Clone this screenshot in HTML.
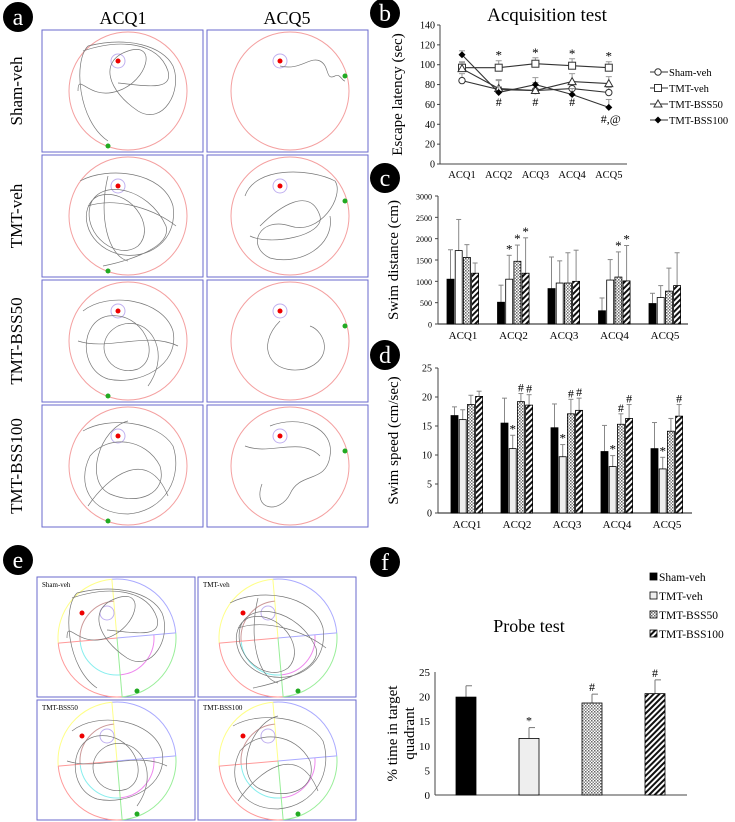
<!DOCTYPE html>
<html><head><meta charset="utf-8">
<style>
html,body{margin:0;padding:0;background:#fff;}
svg{display:block;font-family:"Liberation Serif",serif;}
</style></head>
<body>
<svg id="fig" width="735" height="822" viewBox="0 0 735 822">
<defs>
<pattern id="dots" width="3" height="3" patternUnits="userSpaceOnUse"><rect width="3" height="3" fill="#fff"/><rect width="1.5" height="1.5" fill="#666"/><rect x="1.5" y="1.5" width="1.5" height="1.5" fill="#888"/></pattern>
<pattern id="hatch" width="4" height="4" patternUnits="userSpaceOnUse" patternTransform="rotate(45)"><rect width="4" height="4" fill="#fff"/><rect width="2" height="4" fill="#111"/></pattern>
</defs>
<g id="left"></g>
<g id="charts"></g>
</svg>
<script>
// ---------- chart data ----------
const cats = ["ACQ1","ACQ2","ACQ3","ACQ4","ACQ5"];
const groups = ["Sham-veh","TMT-veh","TMT-BSS50","TMT-BSS100"];
const latSham = [84,75,74,76,72];
const latTmt = [97,97,101,99,97];
const latB50 = [96,76,74,83,81];
const latB100 = [110,72,80,70,57];
const latErrSham = [7,9,6,6,5];
const latErrTmt = [6,7,6,7,6];
const latErrB50 = [6,9,8,8,7];
const latErrB100 = [4,6,7,6,8];
const latTicks = [0,20,40,60,80,100,120,140];
const distSham = [1050,510,830,310,480];
const distTmt = [1720,1050,960,1030,620];
const distB50 = [1560,1470,960,1100,770];
const distB100 = [1190,1190,1000,1010,900];
const distTopSham = [1740,910,1570,610,720];
const distTopTmt = [2450,1610,1480,1510,900];
const distTopB50 = [1860,1850,1670,1690,1310];
const distTopB100 = [1430,2020,1730,1840,1670];
const distTicks = [0,500,1000,1500,2000,2500,3000];
const spdSham = [16.8,15.5,14.7,10.6,11.1];
const spdTmt = [16.1,11.1,9.7,8.0,7.6];
const spdB50 = [18.7,19.2,17.1,15.3,14.1];
const spdB100 = [20.1,18.6,17.7,16.3,16.7];
const spdTopSham = [18.3,19.8,18.8,15.1,15.6];
const spdTopTmt = [17.8,13.4,11.8,9.9,9.6];
const spdTopB50 = [20.3,20.6,19.6,17.1,16.3];
const spdTopB100 = [21.0,20.4,19.8,18.7,18.7];
const spdTicks = [0,5,10,15,20,25];
const probe = [19.9,11.5,18.7,20.6];
const probeTop = [22.2,13.7,20.5,23.4];
const probeMarks = ["","*","#","#"];
const probeTicks = [0,5,10,15,20,25];

const NS="http://www.w3.org/2000/svg";
const svg=document.getElementById('fig');
const charts=document.getElementById('charts');
function el(tag,attrs,parent,text){const e=document.createElementNS(NS,tag);for(const k in attrs)e.setAttribute(k,attrs[k]);if(text!==undefined)e.textContent=text;(parent||svg).appendChild(e);return e;}

function badge(cx,cy,letter){
  const g=el('g',{},svg);
  
  
  el('circle',{cx:cx,cy:cy,r:15,fill:'#000'},g);
  el('text',{x:cx,y:cy+8,'text-anchor':'middle','font-size':24,fill:'#fff'},g,letter);
}
badge(18,17,'a');badge(385,13,'b');badge(385,178,'c');badge(385,355,'d');badge(18,560,'e');badge(385,562,'f');

// ---------- panel b ----------
(function(){
  const g=el('g',{},charts);
  
  
  const x0=440,x1=627,yb=164,yt=25;
  const y=v=>yb-(v-0)/140*(yb-yt);
  const x=i=>462+i*36.7;
  el('text',{x:547,y:21,'text-anchor':'middle','font-size':19},g,'Acquisition test');
  el('line',{x1:x0,y1:yt,x2:x0,y2:yb,stroke:'#444'},g);
  el('line',{x1:x0,y1:yb,x2:x1,y2:yb,stroke:'#444'},g);
  latTicks.forEach(t=>{el('line',{x1:x0-3,x2:x0,y1:y(t),y2:y(t),stroke:'#444'},g);
    const tx=el('text',{x:x0-5,y:y(t)+3.5,'text-anchor':'end','font-size':10},g,t);
    });
  cats.forEach((c,i)=>{el('text',{x:x(i),y:178,'text-anchor':'middle','font-size':10.5},g,c);});
  const yl=el('text',{x:0,y:0,'text-anchor':'middle','font-size':15,transform:`translate(${x0-38},${(yt+yb)/2}) rotate(-90)`},g,'Escape latency (sec)');
  
  const series=[[latSham,latErrSham,'circle'],[latTmt,latErrTmt,'square'],[latB50,latErrB50,'tri'],[latB100,latErrB100,'diamond']];
  series.forEach(([vals,errs,m],si)=>{
    errs.forEach((e,i)=>{el('line',{x1:x(i),x2:x(i),y1:y(vals[i]),y2:y(vals[i]+e),stroke:'#999'},g);
      el('line',{x1:x(i)-3,x2:x(i)+3,y1:y(vals[i]+e),y2:y(vals[i]+e),stroke:'#999'},g);});
    const p=el('polyline',{points:vals.map((v,i)=>x(i)+','+y(v)).join(' '),fill:'none',stroke:'#333','stroke-width':1.1},g);
    
    vals.forEach((v,i)=>marker(g,m,x(i),y(v)));
  });
  [1,2,3,4].forEach(i=>el('text',{x:x(i),y:y(latTmt[i]+latErrTmt[i])-1,'text-anchor':'middle','font-size':13},g,'*'));
  [1,2,3].forEach(i=>el('text',{x:x(i),y:106,'text-anchor':'middle','font-size':12},g,'#'));
  el('text',{x:x(4)+2,y:123,'text-anchor':'middle','font-size':12},g,'#,@');
  const lg=[['circle','Sham-veh'],['square','TMT-veh'],['tri','TMT-BSS50'],['diamond','TMT-BSS100']];
  lg.forEach(([m,n],k)=>{const yy=72+k*16;
    const le=el('g',{},g);
    el('line',{x1:650,x2:668,y1:yy,y2:yy,stroke:'#333'},le);marker(le,m,658,yy);
    el('text',{x:669,y:yy+4,'font-size':10.5},le,n);});
})();
function marker(g,m,cx,cy){
  if(m==='circle')el('circle',{cx:cx,cy:cy,r:3.2,fill:'#fff',stroke:'#333'},g);
  else if(m==='square')el('rect',{x:cx-3.5,y:cy-3.5,width:7,height:7,fill:'#fff',stroke:'#333'},g);
  else if(m==='tri')el('polygon',{points:`${cx},${cy-4} ${cx-4},${cy+3} ${cx+4},${cy+3}`,fill:'#fff',stroke:'#333'},g);
  else el('polygon',{points:`${cx},${cy-3.5} ${cx+3.5},${cy} ${cx},${cy+3.5} ${cx-3.5},${cy}`,fill:'#000'},g);
}

// ---------- bar charts c,d ----------
const fills=['#000','#fff','url(#dots)','url(#hatch)'];
function barChart(name,vals,tops,ticks,max,x0,x1,yt,yb,gx0,gstep,ytitle,tfs,lightTmt,marks){
  const g=el('g',{},charts);
  
  
  const y=v=>yb-v/max*(yb-yt);
  el('line',{x1:x0,y1:yt,x2:x0,y2:yb,stroke:'#444'},g);
  el('line',{x1:x0,y1:yb,x2:x1,y2:yb,stroke:'#444','stroke-width':1.3},g);
  ticks.forEach(t=>{el('line',{x1:x0-3,x2:x0,y1:y(t),y2:y(t),stroke:'#444'},g);
    el('text',{x:x0-6,y:y(t)+3.5,'text-anchor':'end','font-size':max>100?8:10},g,t);});
  const yl=el('text',{x:0,y:0,'text-anchor':'middle','font-size':tfs,transform:`translate(${x0-40},${(yt+yb)/2}) rotate(-90)`},g,ytitle);
  
  cats.forEach((c,i)=>{const cx=gx0+i*gstep;
    el('text',{x:cx,y:yb+15,'text-anchor':'middle','font-size':11},g,c);
    vals.forEach((s,si)=>{const bx=cx-16+si*8.2;
      el('line',{x1:bx+3.5,x2:bx+3.5,y1:y(tops[si][i]),y2:y(s[i]),stroke:'#888'},g);
      el('line',{x1:bx+1,x2:bx+6,y1:y(tops[si][i]),y2:y(tops[si][i]),stroke:'#888'},g);
      const r=el('rect',{x:bx,y:y(s[i]),width:7,height:yb-y(s[i]),fill:(si===1&&lightTmt)?'#eee':fills[si],stroke:'#000','stroke-width':0.8},g);
      
      const mk=marks[si][i];
      if(mk)el('text',{x:bx+3.5,y:y(tops[si][i])-2,'text-anchor':'middle','font-size':mk==='*'?13:12},g,mk);
    });
  });
}
barChart('swim-distance-chart',[distSham,distTmt,distB50,distB100],[distTopSham,distTopTmt,distTopB50,distTopB100],distTicks,3000,438,688,196,324,463,50.5,'Swim distance (cm)',15,false,
  [["","","","",""],["","*","","",""],["","*","","*",""],["","*","","*",""]]);
barChart('swim-speed-chart',[spdSham,spdTmt,spdB50,spdB100],[spdTopSham,spdTopTmt,spdTopB50,spdTopB100],spdTicks,25,438,692,368,513,467,50,'Swim speed (cm/sec)',15,true,
  [["","","","",""],["","*","*","*","*"],["","#","#","#",""],["","#","#","#","#"]]);

// ---------- panel f ----------
(function(){
  const g=el('g',{},charts);
  
  
  const x0=435,x1=687,yt=672,yb=795,y=v=>yb-v/25*(yb-yt);
  el('text',{x:529,y:632,'text-anchor':'middle','font-size':18},g,'Probe test');
  el('line',{x1:x0,y1:yt,x2:x0,y2:yb,stroke:'#444'},g);
  el('line',{x1:x0,y1:yb,x2:x1,y2:yb,stroke:'#444'},g);
  probeTicks.forEach(t=>{el('text',{x:x0-5,y:y(t)+4,'text-anchor':'end','font-size':11},g,t);});
  el('text',{x:0,y:0,'text-anchor':'middle','font-size':15,transform:`translate(${x0-38},${(yt+yb)/2}) rotate(-90)`},g,'% time in target');
  el('text',{x:0,y:0,'text-anchor':'middle','font-size':15,transform:`translate(${x0-21},${(yt+yb)/2}) rotate(-90)`},g,'quadrant');
  probe.forEach((v,i)=>{const cx=466+i*63;
    el('line',{x1:cx,x2:cx,y1:y(probeTop[i]),y2:y(v),stroke:'#777'},g);
    el('line',{x1:cx,x2:cx+6,y1:y(probeTop[i]),y2:y(probeTop[i]),stroke:'#777'},g);
    const r=el('rect',{x:cx-10,y:y(v),width:20,height:yb-y(v),fill:i===1?'#eee':fills[i],stroke:'#000','stroke-width':0.8},g);
    
    if(probeMarks[i])el('text',{x:cx,y:y(probeTop[i])-3,'text-anchor':'middle','font-size':12},g,probeMarks[i]);
  });
  groups.forEach((n,k)=>{const yy=577+k*19;
    const le=el('g',{},g);
    el('rect',{x:650,y:yy-4,width:7,height:7,fill:k===1?'#eee':fills[k],stroke:'#000','stroke-width':0.8},le);
    el('text',{x:659,y:yy+4,'font-size':11.5},le,n);});
})();

// ---------- left trajectory panels (decorative) ----------
const L=document.getElementById('left');
el('text',{x:123,y:24,'text-anchor':'middle','font-size':18},L,'ACQ1');
el('text',{x:287,y:24,'text-anchor':'middle','font-size':18},L,'ACQ5');
const rowNames=['Sham-veh','TMT-veh','TMT-BSS50','TMT-BSS100'];
const paths=[
 "M-40,-45 C-55,-30 -50,30 -20,50 M-40,-45 C0,-55 35,-45 45,-25 C55,0 35,35 10,20 C-20,0 -30,-30 0,-40 C30,-50 20,-10 -10,0 C-40,10 -50,-20 -50,0 M-45,-40 C-10,-52 30,-50 40,-20 C45,0 20,-5 -10,-8",
 "M-10,-25 C10,-20 20,-35 30,-30 C40,-25 35,-10 45,-15 C50,-18 52,-10 55,-10",
 "M-48,-35 C-20,-50 35,-45 45,-10 C50,25 20,45 -10,38 C-45,28 -50,-10 -30,-20 C0,-30 30,10 10,30 C-10,45 -45,20 -38,-10 C-30,-38 20,-30 38,10 C45,35 -15,48 -25,50 M-40,-10 C-10,-20 30,-5 48,10 M-20,-40 C-30,0 -20,40 0,45",
 "M-45,-20 C-35,-50 20,-48 45,-35 C55,-20 30,20 0,10 C-30,0 -45,30 -20,42 C10,50 45,30 40,0 M-30,10 C-10,-10 20,-30 30,0 C35,20 -20,30 -40,20",
 "M-45,-30 C-20,-50 35,-42 45,-10 C52,25 10,45 -20,38 C-50,28 -48,-20 -20,-25 C15,-30 35,15 10,28 C-20,38 -38,0 -10,-15 C20,-28 45,10 20,45 M-50,0 C-20,10 20,-10 50,5",
 "M-10,-20 C-35,5 -20,35 15,28 C45,18 35,-10 20,-15",
 "M-45,-35 C-20,-50 30,-45 45,-20 C55,10 38,45 0,48 C-38,48 -52,18 -38,-10 C-20,-32 18,-28 32,0 C40,28 10,40 -18,28 C-45,15 -28,-38 0,-45 M-40,40 C-20,10 20,-20 40,30",
 "M-20,-40 C10,-52 45,-38 40,-10 C36,18 10,5 0,28 C-10,48 -38,45 -28,18 M-45,-20 C-20,-10 10,-30 30,-10"
];
for(let r=0;r<4;r++){
  const yy=30+r*125;
  el('text',{x:0,y:0,'text-anchor':'middle','font-size':17,transform:`translate(${22},${yy+61}) rotate(-90)`},L,rowNames[r]);
  for(let c=0;c<2;c++){
    const xx=c?207:42,cx=xx+(c?83:86),cy=yy+61;
    const g=el('g',{},L);
    
    
    el('rect',{x:xx,y:yy,width:161,height:122,fill:'#fff',stroke:'#6a6acc','stroke-width':1},g);
    el('circle',{cx:cx,cy:cy,r:59,fill:'none',stroke:'#f4a0a0'},g);
    el('circle',{cx:cx-10,cy:cy-30,r:7,fill:'none',stroke:'#c0b0f0'},g);
    el('path',{d:paths[r*2+c],transform:`translate(${cx},${cy})`,fill:'none',stroke:'#777','stroke-width':0.7},g);
    el('circle',{cx:cx-10,cy:cy-30,r:2.5,fill:'#e00'},g);
    el('circle',{cx:cx+(c?55:-20),cy:cy+(c?-15:55),r:2.5,fill:'#2a2'},g);
  }
}
// panel e
const eNames=['Sham-veh','TMT-veh','TMT-BSS50','TMT-BSS100'];
const qCols=['#aaaaff','#99ee99','#ff9999','#ffff88'];
const iCols=['none','#ee88ee','#88eeee','#cc9999'];
for(let k=0;k<4;k++){
  const xx=37+(k%2)*161,yy=577+Math.floor(k/2)*123,cx=xx+80,cy=yy+61;
  const g=el('g',{},L);
  
  
  el('rect',{x:xx,y:yy,width:158,height:120,fill:'#fff',stroke:'#6a6acc'},g);
  for(let q=0;q<4;q++){const a0=(-95+q*90)*Math.PI/180,a1=a0+Math.PI/2,R=59,r2=37;
    el('path',{d:`M${cx+R*Math.cos(a0)},${cy+R*Math.sin(a0)} A${R},${R} 0 0 1 ${cx+R*Math.cos(a1)},${cy+R*Math.sin(a1)}`,fill:'none',stroke:qCols[q]},g);
    if(iCols[q]!=='none')el('path',{d:`M${cx+r2*Math.cos(a0)},${cy+r2*Math.sin(a0)} A${r2},${r2} 0 0 1 ${cx+r2*Math.cos(a1)},${cy+r2*Math.sin(a1)}`,fill:'none',stroke:iCols[q]},g);
    el('line',{x1:cx,y1:cy,x2:cx+R*Math.cos(a0),y2:cy+R*Math.sin(a0),stroke:qCols[(q+3)%4]},g);}
  el('circle',{cx:cx-10,cy:cy-25,r:7,fill:'none',stroke:'#c0b0f0'},g);
  el('path',{d:paths[k*2],transform:`translate(${cx},${cy})`,fill:'none',stroke:'#777','stroke-width':0.7},g);
  el('text',{x:xx+5,y:yy+10,'font-size':7},g,eNames[k]);
  el('circle',{cx:cx-35,cy:cy-25,r:2.5,fill:'#e00'},g);
  el('circle',{cx:cx+20,cy:cy+53,r:2.5,fill:'#2a2'},g);
}
</script>
</body></html>
